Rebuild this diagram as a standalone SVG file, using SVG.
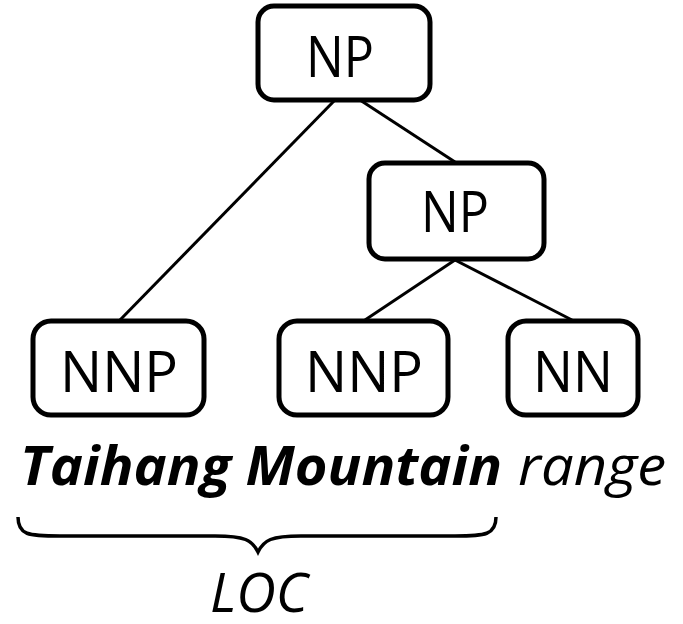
<svg xmlns="http://www.w3.org/2000/svg" width="683" height="624" viewBox="0 0 683 624">
<style>
.box{fill:#fff;stroke:#000;stroke-width:5}
.lbl{font-family:"Open Sans","Liberation Sans",sans-serif;font-size:56px;text-anchor:middle;fill:#000}
.edge{stroke:#000;stroke-width:3;fill:none}
.word{font-family:"Open Sans","Liberation Sans",sans-serif;font-size:54px;font-style:italic;fill:#000}
</style>
<rect width="683" height="624" fill="#fff"/>
<g id="connectors">
<line class="edge" x1="335" y1="100" x2="120" y2="320"/>
<line class="edge" x1="360" y1="100" x2="455" y2="162"/>
<line class="edge" x1="455" y1="260" x2="365" y2="320"/>
<line class="edge" x1="455" y1="260" x2="572" y2="320"/>
</g>
<g id="np-top">
<rect class="box" x="258" y="6" width="172" height="94" rx="16"/>
<text class="lbl" x="340" y="77" textLength="68" lengthAdjust="spacingAndGlyphs">NP</text>
</g>
<g id="np-mid">
<rect class="box" x="369" y="163" width="175" height="96" rx="16"/>
<text class="lbl" x="455" y="232" textLength="68" lengthAdjust="spacingAndGlyphs">NP</text>
</g>
<g id="nnp-1">
<rect class="box" x="33" y="321" width="171" height="94" rx="18"/>
<text class="lbl" x="119" y="392" textLength="118" lengthAdjust="spacingAndGlyphs">NNP</text>
</g>
<g id="nnp-2">
<rect class="box" x="279" y="321" width="169" height="94" rx="18"/>
<text class="lbl" x="364" y="392" textLength="118" lengthAdjust="spacingAndGlyphs">NNP</text>
</g>
<g id="nn">
<rect class="box" x="508" y="321" width="130" height="94" rx="18"/>
<text class="lbl" x="573" y="392" textLength="80" lengthAdjust="spacingAndGlyphs">NN</text>
</g>
<g id="sentence">
<text class="word" x="20" y="485" font-weight="bold" textLength="482" lengthAdjust="spacingAndGlyphs">Taihang Mountain</text>
<text class="word" x="518" y="485" textLength="148" lengthAdjust="spacingAndGlyphs">range</text>
</g>
<g id="brace">
<path class="edge" style="stroke-width:3.5" d="M18,517 C18,535 28,536 60,536 L215,536 C245,536 252,540 258,552 C264,540 271,536 301,536 L455,536 C485,536 496,535 496,517"/>
<text class="word" x="259" y="612" font-size="48" text-anchor="middle" textLength="98" lengthAdjust="spacingAndGlyphs">LOC</text>
</g>
</svg>
